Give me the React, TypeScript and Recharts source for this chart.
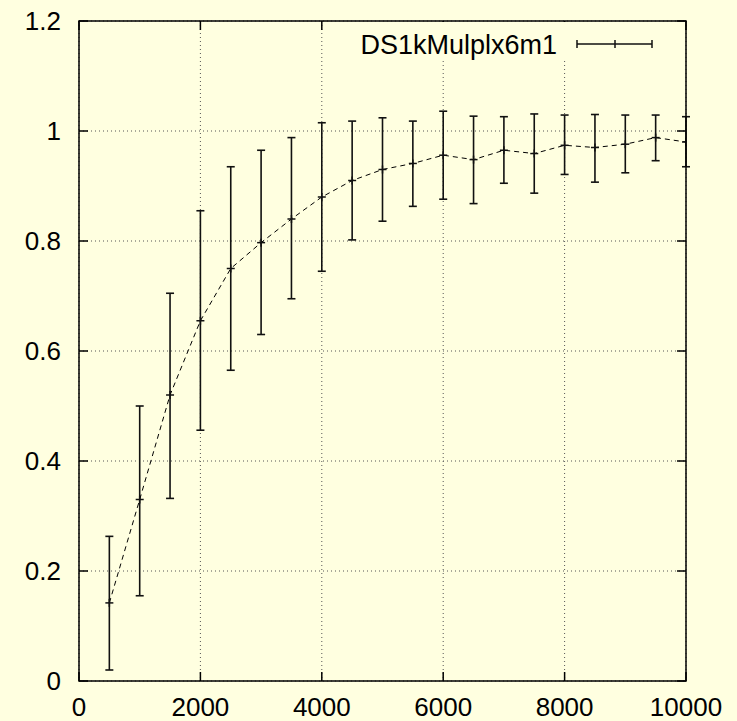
import React from 'react';
import { ComposedChart, Line, XAxis, YAxis, CartesianGrid, ErrorBar, Legend } from 'recharts';

const sizes = [500, 1000, 1500, 2000, 2500, 3000, 3500, 4000, 4500, 5000, 5500, 6000, 6500, 7000, 7500, 8000, 8500, 9000, 9500, 10000];
const means = [0.142, 0.33, 0.52, 0.655, 0.75, 0.797, 0.84, 0.88, 0.91, 0.93, 0.941, 0.956, 0.948, 0.965, 0.959, 0.974, 0.97, 0.976, 0.988, 0.98];
const lows = [0.02, 0.155, 0.332, 0.456, 0.565, 0.63, 0.695, 0.745, 0.802, 0.836, 0.863, 0.876, 0.868, 0.905, 0.887, 0.921, 0.907, 0.924, 0.946, 0.935];
const highs = [0.263, 0.5, 0.705, 0.855, 0.935, 0.965, 0.988, 1.015, 1.018, 1.024, 1.018, 1.036, 1.027, 1.026, 1.031, 1.029, 1.03, 1.029, 1.029, 1.026];

const xTicks = [0, 2000, 4000, 6000, 8000, 10000];
const yTicks = [0, 0.2, 0.4, 0.6, 0.8, 1, 1.2];
const seriesName = 'DS1kMulplx6m1';

const data = sizes.map((x, i) => ({
  x,
  mean: means[i],
  err: [means[i] - lows[i], highs[i] - means[i]],
}));

const BG = '#FFFFE0';
const FONT = '"Liberation Sans", Arial, Helvetica, sans-serif';
// plot box: 79..686 x 21..681
const PLOT_W = 607;
const PLOT_H = 660;
const TICK = 9;

const PlusDot = (props: any) => {
  const { cx, cy } = props;
  if (cx == null || cy == null) return null;
  return (
    <g stroke="#111" strokeWidth={1.5}>
      <line x1={cx - 4} y1={cy} x2={cx + 4} y2={cy} />
      <line x1={cx} y1={cy - 4} x2={cx} y2={cy + 4} />
    </g>
  );
};

// gnuplot style: inward ticks, mirrored on the opposite side
const XTick = (props: any) => {
  const { x, y, payload } = props;
  return (
    <g>
      {payload.value === 0 && (
        <rect x={x} y={y - PLOT_H} width={PLOT_W} height={PLOT_H} fill="none" stroke="#000" strokeWidth={1.5} />
      )}
      <g stroke="#000" strokeWidth={1.5}>
        <line x1={x} y1={y} x2={x} y2={y - TICK} />
        <line x1={x} y1={y - PLOT_H} x2={x} y2={y - PLOT_H + TICK} />
      </g>
      <text x={x} y={y + 35} textAnchor="middle" fontSize={26} fontFamily={FONT} fill="#000">
        {payload.value}
      </text>
    </g>
  );
};

const YTick = (props: any) => {
  const { x, y, payload } = props;
  return (
    <g>
      <g stroke="#000" strokeWidth={1.5}>
        <line x1={x} y1={y} x2={x + TICK} y2={y} />
        <line x1={x + PLOT_W} y1={y} x2={x + PLOT_W - TICK} y2={y} />
      </g>
      <text x={x - 18} y={y} dy="0.36em" textAnchor="end" fontSize={26} fontFamily={FONT} fill="#000">
        {payload.value}
      </text>
    </g>
  );
};

const KeyBox = () => (
  <svg width={330} height={39} style={{ display: 'block', background: BG }}>
    <text x={202} y={32} textAnchor="end" fontSize={27} fontFamily={FONT} fill="#000">
      {seriesName}
    </text>
    <g stroke="#111" strokeWidth={1.5}>
      <line x1={222} y1={22} x2={297} y2={22} />
      <line x1={222} y1={18} x2={222} y2={26} />
      <line x1={297} y1={18} x2={297} y2={26} />
      <line x1={260} y1={18} x2={260} y2={26} />
    </g>
  </svg>
);

export default function App() {
  return (
    <div style={{ position: 'absolute', left: 0, top: 0, width: 737, height: 721, background: BG, fontFamily: FONT }}>
      <ComposedChart width={737} height={721} data={data} margin={{ top: 21, right: 51, bottom: 0, left: 0 }}>
        <CartesianGrid stroke="#555" strokeDasharray="1 3" strokeWidth={1} />
        <XAxis
          dataKey="x"
          type="number"
          domain={[0, 10000]}
          ticks={xTicks}
          height={40}
          tickSize={0}
          tickMargin={0}
          axisLine={false}
          tickLine={false}
          tick={<XTick />}
          interval={0}
          allowDataOverflow
        />
        <YAxis
          type="number"
          domain={[0, 1.2]}
          ticks={yTicks}
          width={79}
          tickSize={0}
          tickMargin={0}
          axisLine={false}
          tickLine={false}
          tick={<YTick />}
          interval={0}
          allowDataOverflow
        />
        <Legend
          layout="horizontal"
          align="center"
          verticalAlign="middle"
          content={() => <KeyBox />}
          wrapperStyle={{ position: 'absolute', left: 355, top: 22, width: 330, height: 39 }}
        />
        <Line
          dataKey="mean"
          name={seriesName}
          stroke="#000"
          strokeWidth={1}
          strokeDasharray="5 4"
          dot={<PlusDot />}
          activeDot={false}
          isAnimationActive={false}
        >
          <ErrorBar dataKey="err" direction="y" width={4} stroke="#111" strokeWidth={1.6} isAnimationActive={false} />
        </Line>
      </ComposedChart>
    </div>
  );
}
